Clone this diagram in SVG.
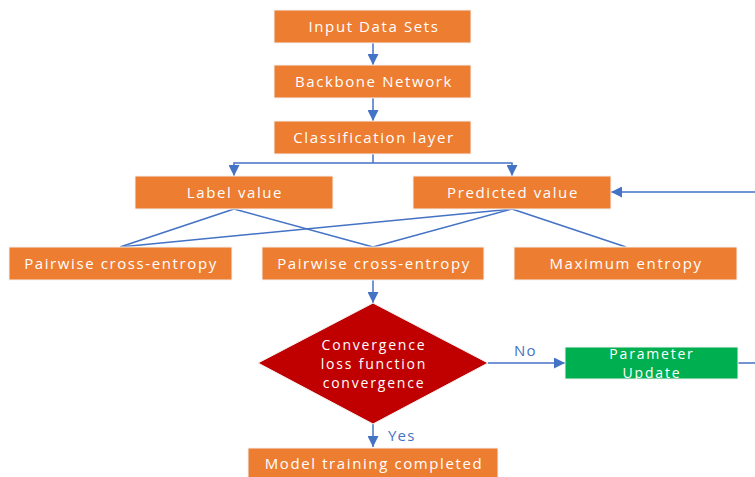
<svg xmlns="http://www.w3.org/2000/svg" width="755" height="477" viewBox="0 0 755 477">
<defs>
<style>
.box{fill:#ED7D31;stroke:#F4F4F4;stroke-width:1}
.t{font-family:"Open Sans","Liberation Sans",sans-serif;font-size:15px;fill:#fff;text-anchor:middle;letter-spacing:1.6px}
.d{font-size:14px;letter-spacing:1.8px}
.c{stroke:#4472C4;stroke-width:1.5;fill:none}
.lb{font-family:"Open Sans","Liberation Sans",sans-serif;font-size:15px;fill:#4472C4;letter-spacing:1.2px}
</style>
<marker id="ah" viewBox="0 0 10 10" refX="10" refY="5" markerWidth="11" markerHeight="11" markerUnits="userSpaceOnUse" orient="auto">
<path d="M0,0 L10,5 L0,10 z" fill="#4472C4"/>
</marker>
</defs>
<rect width="755" height="477" fill="#fff"/>
<g id="connectors">
<path class="c" d="M373,43 V65" marker-end="url(#ah)"/>
<path class="c" d="M373,98 V121" marker-end="url(#ah)"/>
<path class="c" d="M373,154 V163"/>
<path class="c" d="M373,163 H234 V176" marker-end="url(#ah)"/>
<path class="c" d="M373,163 H512 V176" marker-end="url(#ah)"/>
<path class="c" d="M234,209 L120,247"/>
<path class="c" d="M234,209 L373,247"/>
<path class="c" d="M512,209 L120,247"/>
<path class="c" d="M512,209 L373,247"/>
<path class="c" d="M512,209 L626,247"/>
<path class="c" d="M373,280 V303" marker-end="url(#ah)"/>
<path class="c" d="M373,424 V447" marker-end="url(#ah)"/>
<path class="c" d="M488,363 H565" marker-end="url(#ah)"/>
<path class="c" d="M738,363 H765 V192 H611" marker-end="url(#ah)"/>
<text class="lb" x="514" y="356">No</text>
<text class="lb" x="388" y="441">Yes</text>
</g>
<g id="input"><rect class="box" x="274" y="10" width="197" height="33"/><text class="t" x="374" y="32">Input Data Sets</text></g>
<g id="backbone"><rect class="box" x="274" y="65" width="197" height="33"/><text class="t" x="374" y="87">Backbone Network</text></g>
<g id="classification"><rect class="box" x="274" y="121" width="197" height="33"/><text class="t" x="374" y="143">Classification layer</text></g>
<g id="label"><rect class="box" x="135" y="176" width="198" height="33"/><text class="t" x="235" y="198">Label value</text></g>
<g id="predicted"><rect class="box" x="413" y="176" width="198" height="33"/><text class="t" x="513" y="198">Predicted value</text></g>
<g id="pairwise1"><rect class="box" x="9" y="247" width="223" height="33"/><text class="t" x="121" y="269">Pairwise cross-entropy</text></g>
<g id="pairwise2"><rect class="box" x="262" y="247" width="222" height="33"/><text class="t" x="374" y="269">Pairwise cross-entropy</text></g>
<g id="maxent"><rect class="box" x="514" y="247" width="223" height="33"/><text class="t" x="626" y="269">Maximum entropy</text></g>
<g id="decision"><path d="M373,303 L488,363 L373,424 L258,363 z" fill="#C00000" stroke="#F4F4F4" stroke-width="1"/>
<text class="t d" x="374" y="350">Convergence</text><text class="t d" x="374" y="369">loss function</text><text class="t d" x="374" y="388">convergence</text></g>
<g id="param"><rect x="565" y="347" width="173" height="32" fill="#00B050" stroke="#F4F4F4" stroke-width="1"/><text class="t d" x="652" y="359">Parameter</text><text class="t d" x="652" y="378">Update</text></g>
<g id="model"><rect class="box" x="248" y="448" width="250" height="33"/><text class="t" x="374" y="469">Model training completed</text></g>
</svg>
